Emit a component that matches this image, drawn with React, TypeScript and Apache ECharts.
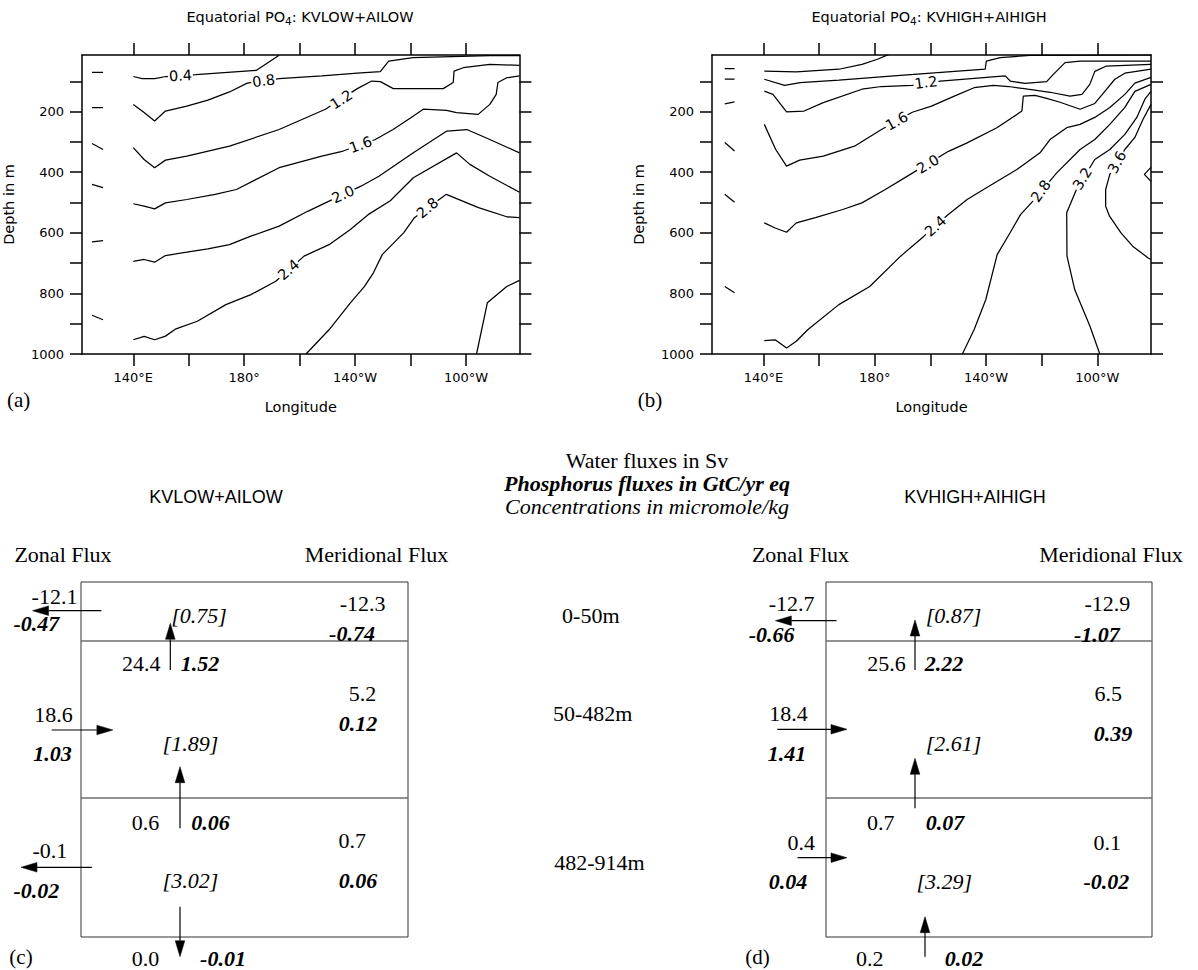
import React, { useEffect, useRef } from 'react';
import * as echarts from 'echarts';

// ---------------- DATA ----------------
// axes
const lonTicks = [140, 160, 180, 200, 220, 240, 260];
const lonLabels = [140, 180, 220, 260];
const depthTicks = [100, 200, 300, 400, 500, 600, 700, 800, 900, 1000];
const depthLabels = [200, 400, 600, 800, 1000];

// Panel (a) KVLOW+AILOW contours  [longitude (deg E), depth (m)]
const lowC04 = [[140, 84], [143.2, 91], [147.7, 91], [151.8, 84], [162.5, 78], [184.3, 64], [192.6, 14]];
const lowC08 = [[140, 176], [143.9, 203], [147.7, 231], [151.6, 198], [159.3, 182], [166.9, 162], [174.7, 135], [181.1, 106], [192.6, 91], [208, 82], [220.8, 73], [229.1, 68], [232.1, 33], [240.9, 22], [268.6, 15], [279.3, 15]];
const lowC12 = [[140, 319], [143.9, 358], [147.7, 385], [151.6, 360], [159.3, 347], [174.7, 314], [192.6, 259], [209.3, 192], [220.8, 124], [226, 99], [229.1, 101], [233.8, 124], [251.8, 124], [255.4, 104], [255.7, 66], [259, 55], [268.6, 44], [279.3, 47]];
const lowC16 = [[140, 504], [143.9, 512], [147.7, 521], [151.6, 501], [159.3, 490], [169.5, 473], [177.2, 457], [192.6, 385], [208, 347], [215.7, 330], [227.3, 292], [233.7, 259], [240.1, 220], [244.6, 192], [253, 196], [256.6, 203], [264.4, 209], [268.6, 176], [270.9, 143], [271.5, 104], [274.7, 88], [279.3, 82]];
const lowC20 = [[140, 694], [143.9, 688], [147.7, 697], [151.6, 675], [159.3, 664], [166.9, 653], [174.7, 639], [182.4, 611], [192.6, 578], [202.9, 529], [209.3, 501], [222.1, 446], [228.6, 413], [241, 336], [253.1, 264], [260.3, 259], [268.6, 292], [279.3, 336]];
const lowC24 = [[140, 953], [143.9, 942], [147.7, 953], [151.6, 941], [155.4, 917], [163.1, 892], [173.4, 837], [182.4, 804], [191.4, 760], [201.6, 677], [210.6, 639], [218.3, 589], [224.7, 540], [232.7, 494], [241, 418], [256.6, 336], [261.4, 374], [268.6, 413], [279.3, 466]];
const lowC28 = [[202.3, 1000], [210.6, 920], [218.3, 831], [223.4, 777], [226.6, 732], [229.8, 672], [237.5, 600], [241.4, 550], [252.9, 473], [264.5, 517], [274.7, 547], [279.3, 550]];
const lowC32 = [[263.8, 1000], [267.7, 831], [274.7, 777], [279.3, 757]];
const lowDashes = [
  [[125.1, 70], [129.1, 70]], [[125.1, 187], [129.1, 187]], [[125.1, 305], [129.1, 325]],
  [[125.1, 440], [129.1, 451]], [[125.1, 630], [129.1, 626]], [[125.1, 872], [129.1, 887]],
];
const lowLabelText = ['0.4', '0.8', '1.2', '1.6', '2.0', '2.4', '2.8'];
const lowLabelAt = [[157, 81], [187, 98], [215, 160], [222, 309], [215.7, 473], [196, 722], [246.1, 518]];

// Panel (b) KVHIGH+AIHIGH contours
const highC04 = [[140.3, 66], [151.8, 69], [167.1, 60], [175.4, 44], [181, 27], [184.9, 12]];
const highC08 = [[140.3, 93], [147.6, 113], [153.2, 104], [167.1, 96], [189.2, 80], [219.7, 60], [220.1, 33], [225.1, 22], [235.8, 14], [279.3, 13]];
const highC12 = [[140.3, 132], [143.4, 143], [148.3, 201], [154.6, 198], [161.5, 170], [175.4, 126], [182.4, 117], [193.5, 113], [203.6, 99], [226.9, 82], [228.7, 99], [234, 107], [241.8, 101], [244.2, 77], [248.4, 38], [253.8, 33], [279.3, 33]];
const highC16 = [[140.3, 242], [144.4, 325], [148.3, 380], [153, 360], [161.5, 347], [172.7, 314], [182.4, 259], [193.5, 202], [200.4, 182], [208.8, 148], [215.7, 121], [222.7, 113], [228.2, 117], [235.1, 126], [243, 136], [250.2, 149], [254.5, 143], [257.3, 110], [259.1, 67], [263.1, 50], [279.3, 44]];
const highC20 = [[140.3, 567], [144.2, 584], [148.3, 598], [151.8, 567], [158.7, 550], [168.5, 523], [175.4, 501], [183.8, 457], [191, 417], [206.5, 331], [213.2, 303], [223.9, 253], [232.9, 198], [233.4, 149], [237.6, 146], [241.8, 156], [246.6, 169], [253.8, 192], [259.1, 173], [262.7, 133], [266.3, 93], [269.9, 73], [279.3, 60]];
const highC24 = [[140.3, 956], [144.2, 953], [148.3, 980], [151.8, 958], [155.9, 920], [167.1, 837], [178.2, 777], [189.3, 677], [197.7, 611], [206, 543], [213.2, 490], [219.1, 457], [231.1, 391], [239.4, 336], [243, 292], [249, 253], [253.8, 242], [259.1, 219], [264.5, 186], [269.9, 143], [273.5, 106], [279.3, 87]];
const highC28 = [[211.5, 1000], [215.7, 920], [219.9, 821], [224, 672], [228.7, 599], [232.4, 540], [238, 484], [245.4, 402], [253.8, 325], [259.1, 292], [264.5, 242], [269.9, 186], [273.5, 133], [279.3, 110]];
const highC32 = [[260.9, 1000], [257.4, 909], [251.9, 788], [249.1, 677], [249, 534], [252.5, 457], [259.1, 358], [264.5, 325], [269.9, 275], [274.2, 219], [277.1, 159], [279.3, 133]];
const highC36 = [[279.3, 688], [278.3, 683], [272.7, 644], [268.5, 600], [264.4, 545], [263, 512], [263, 457], [264.5, 407], [269.9, 325], [273.5, 285], [276.4, 226], [279.3, 176]];
const highC40 = [[279.3, 384], [276.9, 407], [279.3, 430]];
const highDashes = [
  [[126.1, 58], [129.6, 58]], [[126.1, 93], [129.6, 93]], [[126.1, 174], [129.6, 168]],
  [[126.1, 302], [129.6, 330]], [[126.1, 473], [129.6, 499]], [[126.1, 777], [129.6, 798]],
];
const highLabelText = ['1.2', '1.6', '2.0', '2.4', '2.8', '3.2', '3.6'];
const highLabelAt = [[198.4, 104], [187.9, 231], [199.1, 373], [201.8, 578], [239.7, 462], [254.6, 421], [267.1, 367]];

// Box diagrams: layers 0-50m, 50-482m, 482-914m
const layerNames = ['0-50m', '50-482m', '482-914m'];
const zonalWaterLow = [-12.1, 18.6, -0.1];
const zonalPLow = [-0.47, 1.03, -0.02];
const meridWaterLow = [-12.3, 5.2, 0.7];
const meridPLow = [-0.74, 0.12, 0.06];
const vertWaterLow = [24.4, 0.6, 0.0];
const vertPLow = [1.52, 0.06, -0.01];
const concLow = [0.75, 1.89, 3.02];

const zonalWaterHigh = [-12.7, 18.4, 0.4];
const zonalPHigh = [-0.66, 1.41, 0.04];
const meridWaterHigh = [-12.9, 6.5, 0.1];
const meridPHigh = [-1.07, 0.39, -0.02];
const vertWaterHigh = [25.6, 0.7, 0.2];
const vertPHigh = [2.22, 0.07, 0.02];
const concHigh = [0.87, 2.61, 3.29];

// ---------------- STYLE / LAYOUT ----------------
const SANS = '"DejaVu Sans", sans-serif';
const SERIF = '"Liberation Serif", "Times New Roman", serif';
const LON_MIN = 121.5;
const LON_MAX = 279.3;
const DEPTH_MIN = 13;
const DEPTH_MAX = 1000;
const lowLabelRot = [3, 8, 33, 20, 25, 41, 40];
const highLabelRot = [8, 29, 31, 42, 55, 58, 62];

const DIAG = [
  {
    box: [81, 582, 327, 355], dividers: [641, 798],
    zonalW: [[54.5, 596], [53.6, 714], [49.8, 850]],
    zonalP: [[36.3, 623], [52.6, 753], [36.4, 890]],
    meridW: [[362.6, 603], [362.5, 693], [352.2, 840]],
    meridP: [[352, 633], [358, 723], [358, 880]],
    vertW: [[141.2, 663], [145.4, 822], [145.4, 958]],
    vertP: [[200, 663], [210.5, 822], [223, 958]],
    conc: [[199, 615], [190.4, 743], [190.4, 880]],
    zArrows: [[32.5, 101.4, 610.7], [51.7, 112.9, 730], [21, 91.8, 867.3]],
    vArrows: [[170.3, 623.3, 670], [180, 766.7, 828.3], [180, 906.7, 956.7]],
    letter: ['(c)', 21, 957],
  },
  {
    box: [826, 582, 326, 355], dividers: [641, 798],
    zonalW: [[791.7, 603], [788.4, 713], [801.2, 842]],
    zonalP: [[771.6, 634], [786.9, 753], [787.9, 881]],
    meridW: [[1107.3, 603], [1108.3, 693], [1107.3, 842]],
    meridP: [[1096.8, 634], [1113, 733], [1106.3, 881]],
    vertW: [[886.5, 663], [880.8, 822], [869.8, 958]],
    vertP: [[944, 663], [945, 822], [964, 958]],
    conc: [[953.5, 615], [953.5, 743], [944.2, 881]],
    zArrows: [[775.4, 836.5, 620.7], [777.3, 847, 729.3], [797.6, 847, 857.7]],
    vArrows: [[915, 620, 670], [915, 758.3, 808.3], [925, 916.7, 956.7]],
    letter: ['(d)', 757.4, 957],
  },
];

function lonName(v: number) {
  if (v < 180) return v + '°E';
  if (v === 180) return '180°';
  return 360 - v + '°W';
}

function txt(text: string, x: number, y: number, font: string, align = 'center') {
  return {
    type: 'text', x, y, silent: true,
    style: { text, font, fill: '#000', textAlign: align, align, textVerticalAlign: 'middle', verticalAlign: 'middle' },
  };
}

function arrow(x1: number, y1: number, x2: number, y2: number) {
  const len = Math.hypot(x2 - x1, y2 - y1);
  const ux = (x2 - x1) / len, uy = (y2 - y1) / len;
  const hl = 16, hw = 4.8;
  const bx = x2 - ux * hl, by = y2 - uy * hl;
  return [
    { type: 'line', silent: true, shape: { x1, y1, x2: bx, y2: by }, style: { stroke: '#000', lineWidth: 1.2 } },
    {
      type: 'polygon', silent: true,
      shape: { points: [[x2, y2], [bx - uy * hw, by + ux * hw], [bx + uy * hw, by - ux * hw]] },
      style: { fill: '#000', stroke: '#000', lineWidth: 0.5 },
    },
  ];
}

const fW = `22px ${SERIF}`;
const fP = `italic bold 22px ${SERIF}`;
const fC = `italic 22px ${SERIF}`;

function diagram(L: any, zw: number[], zp: number[], mw: number[], mp: number[], vw: number[], vp: number[], cc: number[]) {
  const els: any[] = [];
  const [bx, by, bw, bh] = L.box;
  els.push({ type: 'rect', silent: true, shape: { x: bx, y: by, width: bw, height: bh }, style: { fill: 'none', stroke: '#333', lineWidth: 1 } });
  L.dividers.forEach((y: number) => {
    els.push({ type: 'line', silent: true, shape: { x1: bx, y1: y, x2: bx + bw, y2: y }, style: { stroke: '#6e6e6e', lineWidth: 1.6 } });
  });
  for (let i = 0; i < 3; i++) {
    els.push(txt(zw[i].toFixed(1), L.zonalW[i][0], L.zonalW[i][1], fW));
    els.push(txt(zp[i].toFixed(2), L.zonalP[i][0], L.zonalP[i][1], fP));
    els.push(txt(mw[i].toFixed(1), L.meridW[i][0], L.meridW[i][1], fW));
    els.push(txt(mp[i].toFixed(2), L.meridP[i][0], L.meridP[i][1], fP));
    els.push(txt(vw[i].toFixed(1), L.vertW[i][0], L.vertW[i][1], fW));
    els.push(txt(vp[i].toFixed(2), L.vertP[i][0], L.vertP[i][1], fP));
    els.push(txt('[' + cc[i].toFixed(2) + ']', L.conc[i][0], L.conc[i][1], fC));
    const [xl, xr, ya] = L.zArrows[i];
    if (zp[i] < 0) els.push(...arrow(xr, ya, xl, ya));
    else els.push(...arrow(xl, ya, xr, ya));
    const [xa, yt, yb] = L.vArrows[i];
    if (vp[i] < 0) els.push(...arrow(xa, yt, xa, yb));
    else els.push(...arrow(xa, yb, xa, yt));
  }
  els.push(txt(L.letter[0], L.letter[1], L.letter[2], `21px ${SERIF}`));
  return els;
}

function buildOption() {
  const axisLineStyle = { color: '#000', width: 1.5 };
  const xAxis: any[] = [];
  const yAxis: any[] = [];
  const grid: any[] = [
    { left: 80.5, top: 55, width: 439, height: 299 },
    { left: 712, top: 55, width: 439, height: 299 },
  ];
  [0, 1].forEach((g) => {
    const xCommon = {
      gridIndex: g, type: 'value', min: LON_MIN, max: LON_MAX,
      splitLine: { show: false },
      axisLine: { show: true, onZero: false, lineStyle: axisLineStyle },
      axisTick: { show: true, customValues: lonTicks, length: 12, inside: false, lineStyle: axisLineStyle },
    };
    xAxis.push({
      ...xCommon, position: 'bottom',
      axisLabel: { show: true, customValues: lonLabels, formatter: (v: number) => lonName(v), margin: 17, fontFamily: SANS, fontSize: 13, color: '#000' },
      name: 'Longitude', nameLocation: 'middle', nameGap: 45,
      nameTextStyle: { fontFamily: SANS, fontSize: 14.5, color: '#000' },
    });
    xAxis.push({ ...xCommon, position: 'top', axisLabel: { show: false } });
    const yCommon = {
      gridIndex: g, type: 'value', inverse: true, min: DEPTH_MIN, max: DEPTH_MAX,
      splitLine: { show: false },
      axisLine: { show: true, onZero: false, lineStyle: axisLineStyle },
      axisTick: { show: true, customValues: depthTicks, length: 12, inside: false, lineStyle: axisLineStyle },
    };
    yAxis.push({
      ...yCommon, position: 'left',
      axisLabel: { show: true, customValues: depthLabels, formatter: (v: number) => String(v), margin: 18, fontFamily: SANS, fontSize: 13, color: '#000' },
      name: 'Depth in m', nameLocation: 'middle', nameGap: 66, nameRotate: 90,
      nameTextStyle: { fontFamily: SANS, fontSize: 14.5, color: '#000' },
    });
    yAxis.push({ ...yCommon, position: 'right', axisLabel: { show: false } });
  });

  const series: any[] = [];
  const addLine = (data: number[][], g: number) => {
    series.push({
      type: 'line', xAxisIndex: g * 2, yAxisIndex: g * 2, data, symbol: 'none', showSymbol: false,
      lineStyle: { color: '#000', width: 1.25 }, silent: true, z: 2,
    });
  };
  [lowC04, lowC08, lowC12, lowC16, lowC20, lowC24, lowC28, lowC32, ...lowDashes].forEach((d) => addLine(d, 0));
  [highC04, highC08, highC12, highC16, highC20, highC24, highC28, highC32, highC36, highC40, ...highDashes].forEach((d) => addLine(d, 1));

  const addLabels = (texts: string[], at: number[][], rots: number[], g: number) => {
    series.push({
      type: 'scatter', xAxisIndex: g * 2, yAxisIndex: g * 2, symbolSize: 1,
      itemStyle: { color: '#fff', opacity: 1 }, z: 5, silent: true,
      label: {
        show: true, position: 'inside', fontFamily: SANS, fontSize: 14.5, color: '#000',
        textBorderWidth: 0, backgroundColor: '#fff', padding: [0, 1],
      },
      data: texts.map((t, i) => ({
        value: at[i],
        label: { formatter: t, rotate: rots[i] },
      })),
    });
  };
  addLabels(lowLabelText, lowLabelAt, lowLabelRot, 0);
  addLabels(highLabelText, highLabelAt, highLabelRot, 1);

  const titleRich = {
    a: { fontFamily: SANS, fontSize: 14.5, lineHeight: 20, fill: '#000' },
    s: { fontFamily: SANS, fontSize: 10.5, lineHeight: 11, verticalAlign: 'bottom', fill: '#000' },
  };
  const graphic: any[] = [
    { type: 'text', x: 300, y: 16.5, silent: true, style: { text: '{a|Equatorial PO}{s|4}{a|: KVLOW+AILOW}', rich: titleRich, textAlign: 'center', align: 'center', textVerticalAlign: 'middle', verticalAlign: 'middle' } },
    { type: 'text', x: 929, y: 16.5, silent: true, style: { text: '{a|Equatorial PO}{s|4}{a|: KVHIGH+AIHIGH}', rich: titleRich, textAlign: 'center', align: 'center', textVerticalAlign: 'middle', verticalAlign: 'middle' } },
    txt('(a)', 18.7, 399.5, `21px ${SERIF}`),
    txt('(b)', 650, 399.5, `21px ${SERIF}`),
    txt('Water fluxes in Sv', 647, 460, `22px ${SERIF}`),
    txt('Phosphorus fluxes in GtC/yr eq', 647, 483, `italic bold 22px ${SERIF}`),
    txt('Concentrations in micromole/kg', 647, 506, `italic 22px ${SERIF}`),
    txt('KVLOW+AILOW', 216, 497, `18px "Liberation Sans", sans-serif`),
    txt('KVHIGH+AIHIGH', 975, 497, `18px "Liberation Sans", sans-serif`),
    txt('Zonal Flux', 63, 554, `22px ${SERIF}`),
    txt('Meridional Flux', 376.5, 554, `22px ${SERIF}`),
    txt('Zonal Flux', 800.5, 554, `22px ${SERIF}`),
    txt('Meridional Flux', 1111, 554, `22px ${SERIF}`),
    txt(layerNames[0], 590.8, 615, `22px ${SERIF}`),
    txt(layerNames[1], 592.7, 713, `22px ${SERIF}`),
    txt(layerNames[2], 599.4, 862, `22px ${SERIF}`),
    ...diagram(DIAG[0], zonalWaterLow, zonalPLow, meridWaterLow, meridPLow, vertWaterLow, vertPLow, concLow),
    ...diagram(DIAG[1], zonalWaterHigh, zonalPHigh, meridWaterHigh, meridPHigh, vertWaterHigh, vertPHigh, concHigh),
  ];

  return { animation: false, backgroundColor: '#fff', grid, xAxis, yAxis, series, graphic };
}

export default function App() {
  const ref = useRef<HTMLDivElement>(null);
  useEffect(() => {
    if (!ref.current) return;
    const chart = echarts.init(ref.current, null, { renderer: 'svg' });
    chart.setOption(buildOption() as any);
    return () => chart.dispose();
  }, []);
  return <div ref={ref} style={{ position: 'fixed', left: 0, top: 0, width: 1198, height: 970, background: '#fff' }} />;
}
